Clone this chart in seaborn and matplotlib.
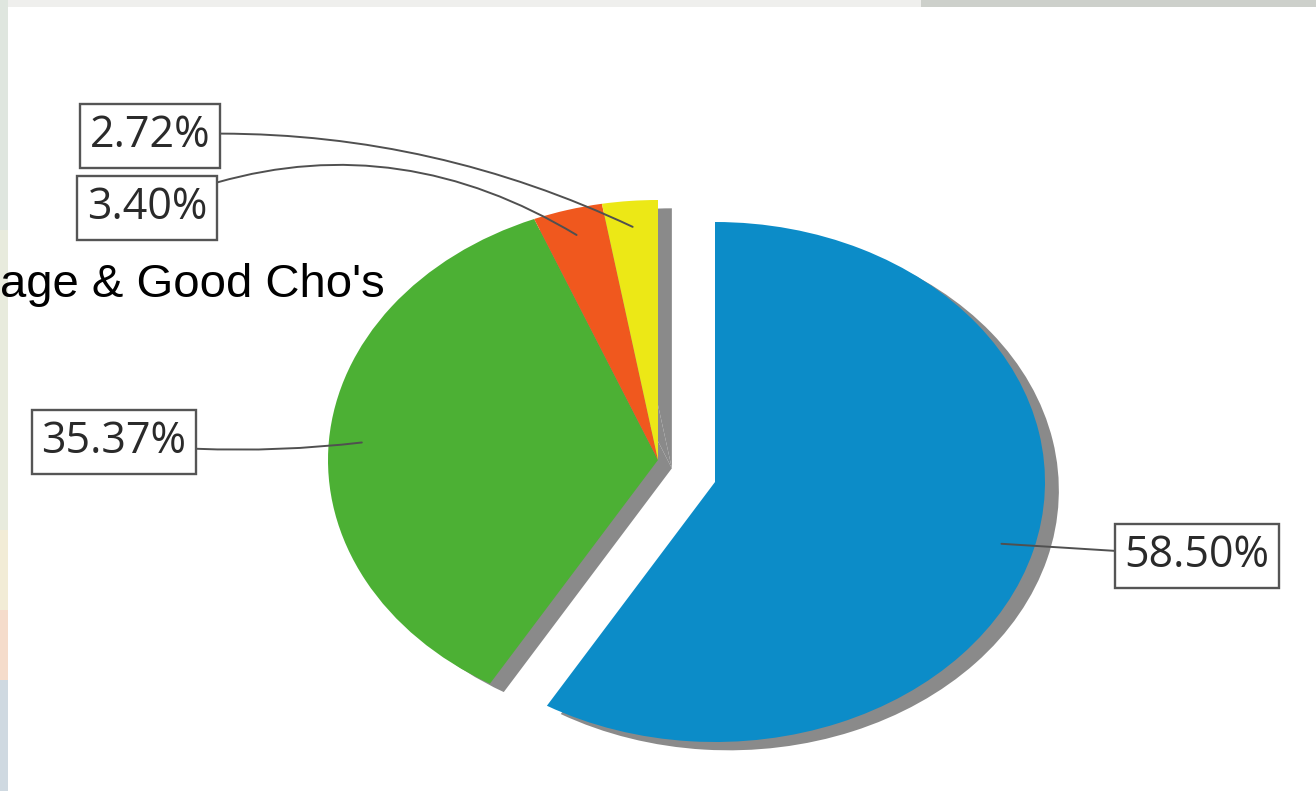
import matplotlib
matplotlib.use("Agg")
import matplotlib.pyplot as plt
import seaborn as sns
import numpy as np
from matplotlib.patches import Rectangle

# ---- data ----
categories = ["Good", "Average", "Poor", "Very poor"]
values = [58.50, 35.37, 3.40, 2.72]
label_texts = ["58.50%", "35.37%", "3.40%", "2.72%"]
title_text = "age & Good Cho's"

sns.set_theme(style="white")
colors = sns.color_palette(["#0c8cc8", "#4cb034", "#f0581e", "#ece816"])
shadow_color = "#8a8a8a"

W, H = 1316, 791
fig = plt.figure(figsize=(W / 100, H / 100), dpi=100)
fig.patch.set_facecolor("white")
ax = fig.add_axes([0, 0, 1, 1])

# pixel geometry of the elliptical pie (layout)
CX, CY, RX, RY = 658, 460, 330, 260


def px(x, y):
    return ((x - CX) / RX, (CY - y) / RY)


blue_offset = (57 / RX, -22 / RY)
shadow_off = (0.042, -0.032)

# shadow pie
sh_wedges, _ = ax.pie(values, colors=[shadow_color] * 4, startangle=90, counterclock=False,
                      center=shadow_off, wedgeprops=dict(linewidth=0))
sh_wedges[0].set_center((blue_offset[0] + shadow_off[0], blue_offset[1] + shadow_off[1]))
wedges, _ = ax.pie(values, colors=colors, startangle=90, counterclock=False,
                   wedgeprops=dict(linewidth=0))
wedges[0].set_center(blue_offset)

ax.set_aspect("auto")
ax.set_xlim(-CX / RX, (W - CX) / RX)
ax.set_ylim(-(H - CY) / RY, CY / RY)
ax.axis("off")

# label positions (pixel layout) and connector curvature
label_pos = [px(1197, 556), px(114, 442), px(147, 208), px(150, 136)]
rads = [0.0, 0.06, -0.26, -0.13]

for w, txt, pos, rad in zip(wedges, label_texts, label_pos, rads):
    mid = np.deg2rad((w.theta1 + w.theta2) / 2)
    cx, cy = w.center
    anchor = (cx + 0.9 * np.cos(mid), cy + 0.9 * np.sin(mid))
    ax.annotate(txt, xy=anchor, xytext=pos, ha="center", va="center",
                fontsize=31, family="Open Sans", color="#2a2a2a",
                bbox=dict(boxstyle="square,pad=0.22", fc="white", ec="#555555", lw=1.7),
                arrowprops=dict(arrowstyle="-", color="#505050", lw=1.4,
                                shrinkA=0, shrinkB=0,
                                connectionstyle=f"arc3,rad={rad}"))

# title fragment
fig.text(0 / W, 1 - 297 / H, title_text, ha="left", va="baseline",
         fontsize=34, family="Liberation Sans", color="black")

# background image edges
fig.patches.append(Rectangle((0, 1 - 7 / H), 1, 7 / H, transform=fig.transFigure,
                             fc="#efefed", ec="none", zorder=-1))
fig.patches.append(Rectangle((0.7, 1 - 7 / H), 0.3, 7 / H, transform=fig.transFigure,
                             fc="#cdd0cb", ec="none", zorder=-1))
strip = [(0, 230, "#dfe6df"), (230, 530, "#e8ebdd"), (530, 610, "#f2ecd6"),
         (610, 680, "#f5dccb"), (680, 791, "#cfd9e1")]
for y0, y1, c in strip:
    fig.patches.append(Rectangle((0, 1 - y1 / H), 8 / W, (y1 - y0) / H,
                                 transform=fig.transFigure, fc=c, ec="none", zorder=-1))

fig.savefig("out.png", dpi=100, facecolor="white")
